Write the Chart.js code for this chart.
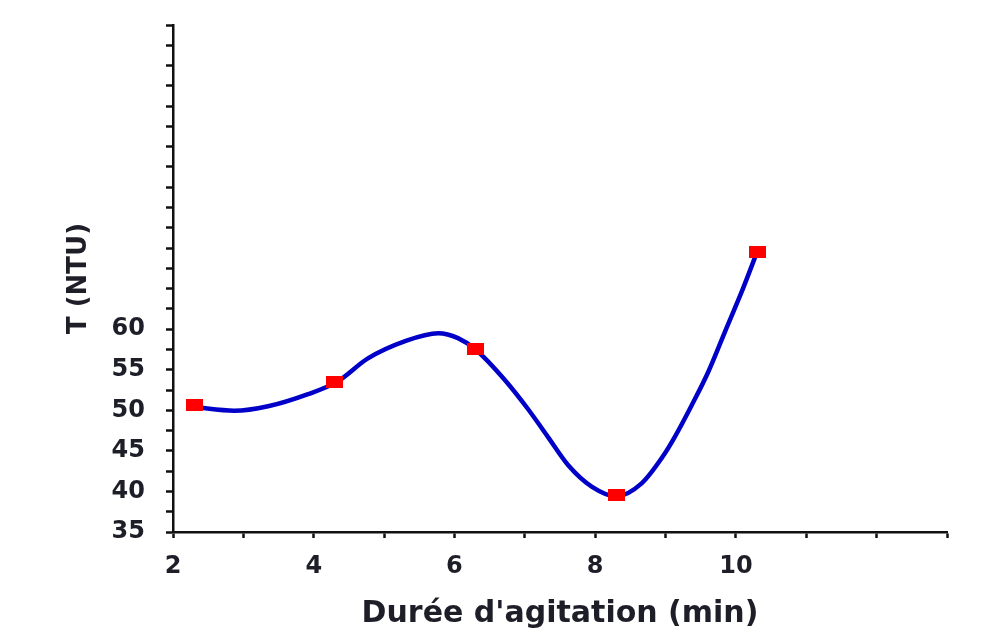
<!DOCTYPE html>
<html>
<head>
<meta charset="utf-8">
<script src="https://cdn.jsdelivr.net/npm/chart.js@4.4.1/dist/chart.umd.min.js"></script>
<style>
  body { margin: 0; background: #fff; }
  #chart { display: block; }
</style>
</head>
<body>
<canvas id="chart" width="983" height="644"></canvas>
<script>
// measured points (red squares)
var mesX = [2.3, 4.3, 6.3, 8.3, 10.3];
var mesY = [50.6, 53.5, 57.6, 39.5, 69.5];

// fitted curve
var curveX = [2.3, 2.87, 3.35, 3.92, 4.33, 4.77, 5.29, 5.77, 6.05, 6.3, 6.71, 7.05, 7.33, 7.62, 7.95, 8.3, 8.66, 8.96, 9.13, 9.37, 9.6, 9.85, 10.1, 10.3];
var curveY = [50.4, 49.95, 50.5, 52.0, 53.5, 56.4, 58.5, 59.5, 58.9, 57.5, 53.8, 50.1, 46.7, 43.2, 40.6, 39.4, 41.0, 44.3, 46.7, 50.6, 54.6, 59.8, 65.0, 69.5];

// tick labels shown on the axes
var xLabels = [2, 4, 6, 8, 10];
var yLabels = [35, 40, 45, 50, 55, 60];

var xTitle = "Durée d'agitation (min)";
var yTitle = "T (NTU)";

var curvePts = [];
for (var i = 0; i < curveX.length; i++) {
    curvePts.push({x: curveX[i], y: curveY[i]});
}
var mesPts = [];
for (var j = 0; j < mesX.length; j++) {
    mesPts.push({x: mesX[j], y: mesY[j]});
}

// little red rectangle for the markers
var marker = document.createElement('canvas');
marker.width = 17;
marker.height = 12;
var mctx = marker.getContext('2d');
mctx.fillStyle = '#ff0000';
mctx.fillRect(0, 0, 17, 12);

var textColor = '#1e1e28';

const ctx = document.getElementById('chart').getContext('2d');
const chart = new Chart(ctx, {
    type: 'scatter',
    data: {
        datasets: [
            {
                data: curvePts,
                showLine: true,
                borderColor: '#0000c8',
                borderWidth: 4.5,
                pointRadius: 0,
                cubicInterpolationMode: 'monotone',
                order: 2
            },
            {
                data: mesPts,
                pointStyle: marker,
                pointRadius: 8,
                showLine: false,
                order: 1
            }
        ]
    },
    options: {
        responsive: false,
        animation: false,
        layout: {padding: {top: 25, right: 36, left: 0, bottom: 0}},
        plugins: {legend: {display: false}, tooltip: {enabled: false}},
        scales: {
            x: {
                type: 'linear',
                min: 2,
                max: 13,
                afterFit: function(scale) {
                    scale.height = 112;
                    scale.paddingLeft = 0;
                    scale.paddingRight = 0;
                },
                border: {color: '#111', width: 2.5},
                grid: {drawOnChartArea: false, tickLength: 6, tickColor: '#111', tickWidth: 2.5},
                ticks: {
                    stepSize: 1,
                    color: textColor,
                    padding: 14,
                    maxRotation: 0,
                    autoSkip: false,
                    font: {family: 'DejaVu Sans', weight: 'bold', size: 24},
                    callback: function(v) { return xLabels.indexOf(v) >= 0 ? String(v) : ''; }
                },
                title: {
                    display: true,
                    text: xTitle,
                    color: textColor,
                    padding: {top: 0, bottom: 12},
                    font: {family: 'DejaVu Sans', weight: 'bold', size: 30}
                }
            },
            y: {
                min: 35,
                max: 97.5,
                afterFit: function(scale) {
                    scale.width = 173;
                    scale.paddingTop = 0;
                    scale.paddingBottom = 0;
                },
                border: {color: '#111', width: 2.5},
                grid: {drawOnChartArea: false, tickLength: 7, tickColor: '#111', tickWidth: 2.5},
                ticks: {
                    stepSize: 2.5,
                    color: textColor,
                    padding: 21,
                    autoSkip: false,
                    font: {family: 'DejaVu Sans', weight: 'bold', size: 24},
                    callback: function(v) { return yLabels.indexOf(v) >= 0 ? String(v) : ''; }
                },
                title: {
                    display: true,
                    text: yTitle,
                    color: textColor,
                    padding: {top: 64, bottom: 0},
                    font: {family: 'DejaVu Sans', weight: 'bold', size: 26}
                }
            }
        }
    }
});
</script>
</body>
</html>
